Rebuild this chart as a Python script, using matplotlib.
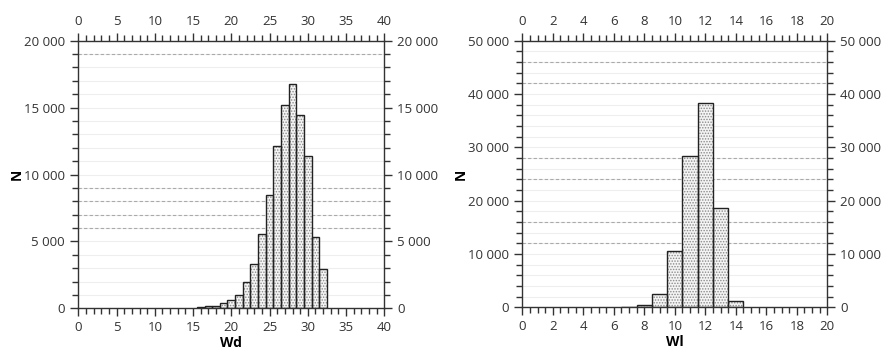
import matplotlib
matplotlib.use("Agg")
import matplotlib.pyplot as plt
from matplotlib.ticker import MultipleLocator, FuncFormatter

plt.rcParams['font.family'] = ['Open Sans', 'DejaVu Sans']
plt.rcParams['hatch.linewidth'] = 0.7

# Left histogram (Wd)
wd_bins = [16, 17, 18, 19, 20, 21, 22, 23, 24, 25, 26, 27, 28, 29, 30, 31, 32]
wd_counts = [75, 150, 200, 370, 620, 990, 1960, 3290, 5550, 8440, 12100, 15190,
             16730, 14420, 11400, 5300, 2910]
wd_dashed = [19000, 9000, 8000, 7000, 6000]

# Right histogram (Wl)
wl_bins = [7, 8, 9, 10, 11, 12, 13, 14]
wl_counts = [120, 370, 2440, 10610, 28300, 38400, 18560, 1180]
wl_dashed = [46000, 42000, 28000, 24000, 16000, 12000]

W, H = 881, 351
fig = plt.figure(figsize=(W / 100, H / 100), dpi=100)

fmt = FuncFormatter(lambda v, p: f"{int(round(v)):,}".replace(",", " "))
TC = '#333333'


def make_panel(rect, bins, counts, dashed, xmax, xmajor, xminor, ymax, ymajor, yminor, xlabel):
    ax = fig.add_axes(rect)
    ax.set_xlim(0, xmax)
    ax.set_ylim(0, ymax)
    # faint grid at each minor step
    y = yminor
    while y < ymax:
        ax.axhline(y, color='#eeeeee', lw=0.8, zorder=0)
        y += yminor
    for d in dashed:
        ax.axhline(d, color='#aaaaaa', lw=0.8, ls=(0, (3, 2)), zorder=0.5)
    ax.bar(bins, counts, width=1.0, color='#f4f4f4', edgecolor='#8a8a8a', hatch='......',
           linewidth=0, zorder=2)
    ax.bar(bins, counts, width=1.0, fill=False, edgecolor='#222222', linewidth=1.0, zorder=3)
    ax.xaxis.set_major_locator(MultipleLocator(xmajor))
    ax.xaxis.set_minor_locator(MultipleLocator(xminor))
    ax.yaxis.set_major_locator(MultipleLocator(ymajor))
    ax.yaxis.set_minor_locator(MultipleLocator(yminor))
    ax.yaxis.set_major_formatter(fmt)
    ax.tick_params(axis='both', which='both', direction='out', colors=TC,
                   top=True, bottom=True, left=True, right=True,
                   labeltop=True, labelbottom=True, labelleft=True, labelright=True,
                   labelsize=9.5)
    ax.tick_params(which='major', length=6, width=1)
    ax.tick_params(which='minor', length=4, width=1)
    for s in ax.spines.values():
        s.set_color('#333333')
        s.set_linewidth(1)
    ax.set_xlabel(xlabel, fontsize=10, fontweight='bold', color='black', labelpad=1)
    return ax


axL = make_panel([78.3 / W, 1 - 308.3 / H, 306 / W, 267.6 / H], wd_bins, wd_counts, wd_dashed,
                 40, 5, 1, 20000, 5000, 1000, 'Wd')
axL.set_ylabel('N', fontsize=10, fontweight='bold', color='black', labelpad=0)

axR = make_panel([522.3 / W, 1 - 307.3 / H, 305 / W, 266.6 / H], wl_bins, wl_counts, wl_dashed,
                 20, 2, 0.5, 50000, 10000, 2000, 'Wl')
axR.set_ylabel('N', fontsize=10, fontweight='bold', color='black', labelpad=0)

fig.savefig('out.png', dpi=100)
